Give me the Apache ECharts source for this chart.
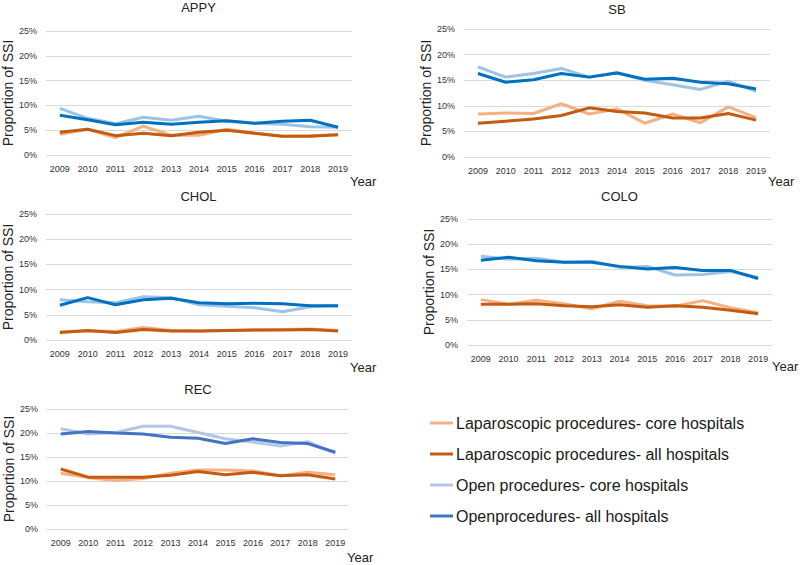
<!DOCTYPE html>
<html><head><meta charset="utf-8">
<script src="https://cdn.jsdelivr.net/npm/echarts@6/dist/echarts.min.js"></script>
<style>html,body{margin:0;padding:0;background:#fff}#c{width:800px;height:565px}</style>
</head><body><div id="c"></div>
<script>
const years = ['2009','2010','2011','2012','2013','2014','2015','2016','2017','2018','2019'];
const seriesNames = ['Laparoscopic procedures- core hospitals','Laparoscopic procedures- all hospitals','Open procedures- core hospitals','Openprocedures- all hospitals'];
const yTicks = [0,5,10,15,20,25];
// values in %
const appyLapCore = [4.2,5.2,3.5,5.8,4.0,4.0,5.2,4.4,3.8,3.9,4.1];
const appyLapAll  = [4.6,5.2,3.9,4.4,3.9,4.6,5.0,4.4,3.8,3.8,4.1];
const appyOpenCore= [9.4,7.4,6.3,7.6,7.0,7.8,6.8,6.4,6.2,5.7,5.6];
const appyOpenAll = [8.0,7.1,6.1,6.6,6.2,6.6,6.9,6.4,6.8,7.0,5.6];

const sbLapCore = [8.4,8.6,8.5,10.4,8.4,9.4,6.6,8.4,6.7,9.8,7.7];
const sbLapAll  = [6.6,7.0,7.4,8.1,9.6,8.9,8.6,7.6,7.6,8.5,7.2];
const sbOpenCore= [17.6,15.6,16.3,17.3,15.6,16.5,15.0,14.1,13.2,14.8,12.8];
const sbOpenAll = [16.3,14.6,15.1,16.3,15.6,16.4,15.2,15.4,14.6,14.3,13.3];

const cholLapCore = [1.6,1.8,1.7,2.5,1.9,1.8,1.9,2.0,2.1,2.2,1.9];
const cholLapAll  = [1.5,1.9,1.5,2.1,1.8,1.8,1.9,2.0,2.0,2.1,1.8];
const cholOpenCore= [8.0,7.6,7.4,8.6,8.4,7.0,6.7,6.4,5.6,6.6,6.8];
const cholOpenAll = [6.9,8.4,7.0,8.0,8.3,7.4,7.2,7.3,7.2,6.8,6.8];

const coloLapCore = [9.0,8.1,8.9,8.2,7.2,8.7,7.8,7.7,8.8,7.4,6.4];
const coloLapAll  = [8.1,8.1,8.2,7.8,7.6,8.0,7.5,7.8,7.5,6.9,6.2];
const coloOpenCore= [17.6,17.0,17.2,16.4,16.6,15.4,15.6,13.9,14.0,14.6,13.4];
const coloOpenAll = [16.8,17.4,16.7,16.4,16.4,15.6,15.1,15.4,14.8,14.8,13.2];

const recLapCore = [11.6,10.7,10.1,10.5,11.6,12.3,12.3,12.1,11.1,11.8,11.3];
const recLapAll  = [12.5,10.8,10.8,10.8,11.2,12.0,11.3,11.8,11.1,11.3,10.4];
const recOpenCore= [20.9,19.8,20.1,21.4,21.4,20.1,18.8,18.1,17.3,18.2,15.8];
const recOpenAll = [19.8,20.3,20.0,19.8,19.1,18.9,17.8,18.8,18.0,17.8,16.0];

const panels = [
  {name:'APPY', data:[appyLapCore,appyLapAll,appyOpenCore,appyOpenAll], grid:{left:45,top:31,width:307,height:124}, titleY:8, yearPad:20, blue:['#9DC3E6','#0070C0']},
  {name:'SB', data:[sbLapCore,sbLapAll,sbOpenCore,sbOpenAll], grid:{left:464,top:29,width:306,height:128}, titleY:10, yearPad:18, blue:['#9DC3E6','#0070C0']},
  {name:'CHOL', data:[cholLapCore,cholLapAll,cholOpenCore,cholOpenAll], grid:{left:45,top:214,width:307,height:126}, titleY:197, yearPad:21, blue:['#9DC3E6','#0070C0']},
  {name:'COLO', data:[coloLapCore,coloLapAll,coloOpenCore,coloOpenAll], grid:{left:467,top:219,width:305,height:126}, titleY:197, yearPad:15, blue:['#9DC3E6','#0070C0']},
  {name:'REC', data:[recLapCore,recLapAll,recOpenCore,recOpenAll], grid:{left:47,top:409,width:302,height:120}, titleY:390, yearPad:22, blue:['#B4C7E7','#4472C4']}
];
const orange = ['#F4B183','#C55A11'];
const FONT = '"Liberation Sans", Arial, sans-serif';

const option = {
  animation:false,
  textStyle:{fontFamily:FONT},
  title:[], grid:[], xAxis:[], yAxis:[], series:[],
  legend:{
    orient:'vertical', left:430, top:415, itemGap:15, itemWidth:23, itemHeight:3,
    icon:'rect', padding:0,
    textStyle:{fontSize:16, color:'#1a1a1a', fontFamily:FONT, padding:[0,0,0,-2]},
    data:[
      {name:seriesNames[0], itemStyle:{color:'#F4B183'}},
      {name:seriesNames[1], itemStyle:{color:'#C55A11'}},
      {name:seriesNames[2], itemStyle:{color:'#B4C7E7'}},
      {name:seriesNames[3], itemStyle:{color:'#4472C4'}}
    ]
  }
};

panels.forEach((p,i)=>{
  const g = p.grid;
  option.grid.push({left:g.left, top:g.top, width:g.width, height:g.height, containLabel:false});
  option.title.push({text:p.name, left:g.left+g.width/2, top:p.titleY-7, textAlign:'center', padding:0,
    textStyle:{fontSize:13, fontWeight:'normal', color:'#222', fontFamily:FONT}});
  option.xAxis.push({type:'category', gridIndex:i, data:years, boundaryGap:true,
    axisLine:{show:false}, axisTick:{show:false},
    axisLabel:{fontSize:9, color:'#333', margin:9, interval:0},
    name:'Year', nameLocation:'end', nameGap:-2,
    nameTextStyle:{fontSize:13, color:'#222', verticalAlign:'top', align:'left', padding:[p.yearPad,0,0,0]}});
  option.yAxis.push({type:'value', gridIndex:i, min:0, max:25, interval:5,
    axisLabel:{formatter:'{value}%', fontSize:9, color:'#333', margin:9, hideOverlap:false},
    axisLine:{show:false}, axisTick:{show:false},
    splitLine:{lineStyle:{color:'#D9D9D9', width:1}},
    name:'Proportion of SSI', nameLocation:'middle', nameRotate:90, nameGap:28,
    nameTextStyle:{fontSize:14, color:'#222'}});
  const colors = [orange[0], orange[1], p.blue[0], p.blue[1]];
  p.data.forEach((d,k)=>{
    option.series.push({type:'line', name:seriesNames[k], xAxisIndex:i, yAxisIndex:i, data:d,
      symbol:'none', lineStyle:{width:3, color:colors[k]}, itemStyle:{color:colors[k]}, z:2+k});
  });
});

const chart = echarts.init(document.getElementById('c'), null, {renderer:'svg'});
chart.setOption(option);
</script>
</body></html>
